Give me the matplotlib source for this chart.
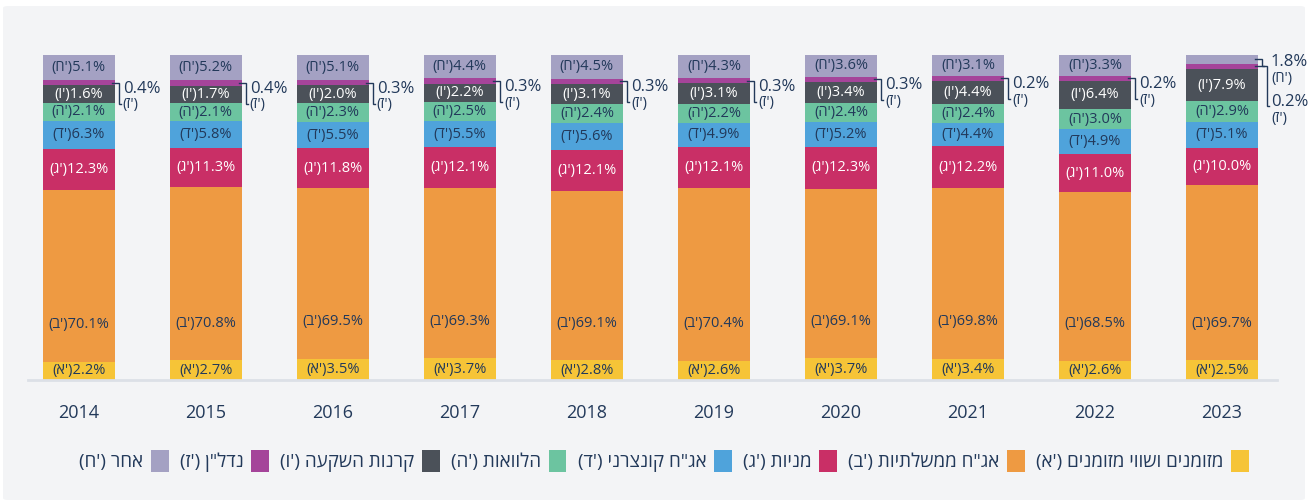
import matplotlib
matplotlib.use('Agg')
import matplotlib.pyplot as plt
from matplotlib.patches import Rectangle, FancyBboxPatch
import numpy as np

# ---------------- data ----------------
years = ['2014', '2015', '2016', '2017', '2018', '2019', '2020', '2021', '2022', '2023']
letters = ['א', 'ב', 'ג', 'ד', 'ה', 'ו', 'ז', 'ח']
category_names = ['מזומנים ושווי מזומנים', 'אג"ח ממשלתיות', 'מניות', 'אג"ח קונצרני',
                  'הלוואות', 'קרנות השקעה', 'נדל"ן', 'אחר']
cash = [2.2, 2.7, 3.5, 3.7, 2.8, 2.6, 3.7, 3.4, 2.6, 2.5]
gov_bonds = [70.1, 70.8, 69.5, 69.3, 69.1, 70.4, 69.1, 69.8, 68.5, 69.7]
stocks = [12.3, 11.3, 11.8, 12.1, 12.1, 12.1, 12.3, 12.2, 11.0, 10.0]
corp_bonds = [6.3, 5.8, 5.5, 5.5, 5.6, 4.9, 5.2, 4.4, 4.9, 5.1]
loans = [2.1, 2.1, 2.3, 2.5, 2.4, 2.2, 2.4, 2.4, 3.0, 2.9]
inv_funds = [1.6, 1.7, 2.0, 2.2, 3.1, 3.1, 3.4, 4.4, 6.4, 7.9]
real_estate = [0.4, 0.4, 0.3, 0.3, 0.3, 0.3, 0.3, 0.2, 0.2, 0.2]
other = [5.1, 5.2, 5.1, 4.4, 4.5, 4.3, 3.6, 3.1, 3.3, 1.8]

# ---------------- style ----------------
colors = ['#F6C437', '#EE9A42', '#C92F66', '#4FA3DB', '#6CC4A0', '#4B5159', '#A5449A', '#A4A1C3']
white_label = [False, False, True, False, False, True, False, False]
NAVY = '#22395A'
PANEL = '#F3F4F6'

plt.rcParams['font.family'] = ['Open Sans', 'DejaVu Sans']


def rtl(s):
    return s[::-1]


values = np.array([cash, gov_bonds, stocks, corp_bonds, loans, inv_funds, real_estate, other])
nseg, nyear = values.shape

# segments labelled outside the bar: real estate always, "other" when small
outside = np.zeros_like(values, dtype=bool)
outside[6, :] = True
outside[7, :] = values[7, :] < 2.0

# visual padding so in-bar labels fit, then each bar normalised to 100
disp = values + np.where(outside, 2.0, 6.0)
disp = disp / disp.sum(axis=0) * 100.0
bottoms = np.vstack([np.zeros(nyear), np.cumsum(disp, axis=0)[:-1]])

W, H = 1308, 500
fig = plt.figure(figsize=(W / 100, H / 100), dpi=100, facecolor='white')
panel = FancyBboxPatch((3 / W, 0), (W - 6) / W, (H - 6) / H,
                       boxstyle='round,pad=0,rounding_size=0.004',
                       transform=fig.transFigure, facecolor=PANEL, edgecolor='none', zorder=-10)
fig.patches.append(panel)

ax_left, ax_right = 28, 1277
ax_bottom, ax_top = 380, 55
ax = fig.add_axes([ax_left / W, (H - ax_bottom) / H, (ax_right - ax_left) / W, (ax_bottom - ax_top) / H])
ax.set_facecolor('none')
ax.set_zorder(5)

x = np.arange(nyear)
bar_w = 0.567
xlim = (-0.40, nyear - 1 + 0.433)
ax.set_xlim(*xlim)
ax.set_ylim(0, 100)

ppx = ax.bbox.width / (xlim[1] - xlim[0])
ppy = ax.bbox.height / 100.0


def dxp(p):
    return p / ppx


def dyp(p):
    return p / ppy


for k in range(nseg):
    ax.bar(x, disp[k], bottom=bottoms[k], width=bar_w, color=colors[k], linewidth=0, zorder=2)

label_fs = 10.5
for k in range(nseg):
    for i in range(nyear):
        if outside[k, i]:
            continue
        if k == 1:
            yc = bottoms[k, i] + dyp(37)
        else:
            yc = bottoms[k, i] + disp[k, i] / 2
        txt = f"({letters[k]}')" + f"{values[k, i]:.1f}%"
        ax.text(x[i], yc, txt, ha='center', va='center', fontsize=label_fs,
                color='white' if white_label[k] else NAVY, zorder=3)

# outside labels with brackets
for i in range(nyear):
    outs = [k for k in (7, 6) if outside[k, i]]
    if not outs:
        continue
    edge = x[i] + bar_w / 2
    n = len(outs)
    first_mid = bottoms[outs[0], i] + disp[outs[0], i] / 2
    tx = edge + dxp(8 + 5 * (n - 1))
    for j, k in enumerate(outs):
        ymid = bottoms[k, i] + disp[k, i] / 2
        if n == 1:
            yval = first_mid - dyp(6)
        else:
            yval = first_mid - dyp(3 + 40 * j)
        ylet = yval - dyp(16)
        bx = edge + dxp(4 + 5 * j)
        if j == n - 1:
            ybot = yval - dyp(15) if n == 1 else yval - dyp(4)
        else:
            ybot = ymid - dyp(7)
        ax.plot([edge - dxp(3), bx, bx, bx + dxp(2)], [ymid, ymid, ybot, ybot],
                color=NAVY, lw=1.0, solid_joinstyle='miter', zorder=3, clip_on=False)
        ax.text(tx, yval, f"{values[k, i]:.1f}%", ha='left', va='center', fontsize=12,
                color=NAVY, zorder=3)
        ax.text(tx, ylet, f"({letters[k]}')", ha='left', va='center', fontsize=10.5,
                color=NAVY, zorder=3)

# axes styling
for s in ('top', 'right', 'left'):
    ax.spines[s].set_visible(False)
ax.spines['bottom'].set_color('#DCE0E7')
ax.spines['bottom'].set_linewidth(2)
ax.set_yticks([])
ax.set_xticks(x)
ax.set_xticklabels(years)
ax.tick_params(axis='x', length=0, pad=17, labelsize=13, labelcolor=NAVY)

# legend (right-to-left order)
handles = [Rectangle((0, 0), 1, 1, facecolor=c, edgecolor='none') for c in colors]
labels = [f"({letters[k]}') " + rtl(category_names[k]) for k in range(nseg)]
fig.legend(handles[::-1], labels[::-1], loc='center', bbox_to_anchor=(664 / W, (H - 461) / H),
           ncol=nseg, frameon=False, markerfirst=False, handlelength=0.95, handleheight=1.45,
           handletextpad=0.4, columnspacing=0.6, fontsize=13.5, labelcolor=NAVY,
           borderaxespad=0, borderpad=0)

fig.savefig('out.png', dpi=100, facecolor='white')
